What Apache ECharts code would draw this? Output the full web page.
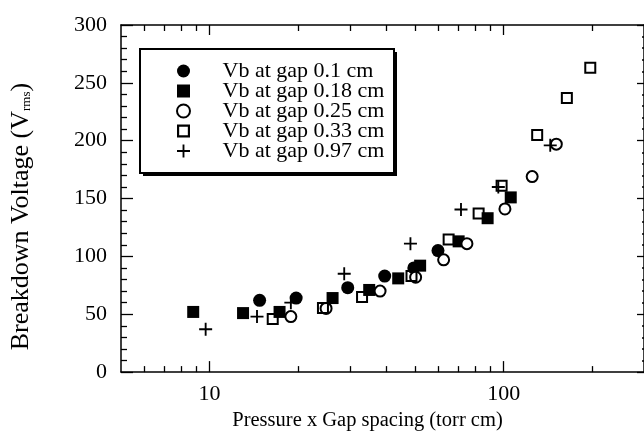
<!DOCTYPE html>
<html>
<head>
<meta charset="utf-8">
<script src="https://cdn.jsdelivr.net/npm/echarts@6/dist/echarts.min.js"></script>
<style>html,body{margin:0;padding:0;background:#fff}#c{width:644px;height:436px}</style>
</head>
<body>
<div id="c"></div>
<script>
// ---- data ----
const seriesNames = ['Vb at gap 0.1 cm','Vb at gap 0.18 cm','Vb at gap 0.25 cm','Vb at gap 0.33 cm','Vb at gap 0.97 cm'];
const gap010 = [[14.8,62],[19.7,64],[29.5,73],[39.4,83],[49.5,90],[59.8,105]];
const gap018 = [[8.8,52],[13,51],[17.3,52],[26.2,64],[34.9,71],[43.8,81],[52,92],[70.3,113],[88.2,133],[105.7,151]];
const gap025 = [[18.9,48],[24.9,55],[38,70],[50.2,82],[62.5,97],[75,111],[101,141],[125,169],[151,197]];
const gap033 = [[16.4,46],[24.3,55.5],[33,65],[48.6,83],[65,114.5],[82.2,137],[98.4,161],[130,205],[164,237],[197,263]];
const gap097 = [[9.7,37],[14.5,48],[18.9,60],[28.7,85],[48.2,111],[71.6,140.5],[95.9,160],[144,196]];
const xMajorTicks = [10,100];
const xMinorTicks = [6,7,8,9,20,30,40,50,60,70,80,90,200];
const xMin = 5, xMax = 300;
const yMin = 0, yMax = 300, yStep = 50;

const FONT = "'Liberation Serif','Times New Roman',serif";
const plusPath = 'path://M6,0H8V6H14V8H8V14H6V8H0V6H6Z';
const squarePath = 'path://M0,0H12V12H0Z';
const openSquarePath = 'path://M0,0H12V12H0Z M2,2V10H10V2Z';

const chart = echarts.init(document.getElementById('c'), null, {renderer:'canvas'});
const lineStyle = {color:'#000', width:1.5};
function xAxisDef(pos, ticks, len, showLine, showLabel, extra){
  return Object.assign({
    type:'log', logBase:10, min:xMin, max:xMax, position:pos, gridIndex:0,
    axisLine:{show:showLine, onZero:false, lineStyle:lineStyle},
    axisTick:{show:true, inside:true, length:len, customValues:ticks, lineStyle:{color:'#000', width:1.3}},
    axisLabel:{show:showLabel, customValues:xMajorTicks, color:'#000', fontFamily:FONT, fontSize:22, margin:11},
    splitLine:{show:false}, minorTick:{show:false}
  }, extra||{});
}
const option = {
  backgroundColor:'#fff',
  animation:false,
  textStyle:{fontFamily:FONT, color:'#000'},
  grid:{left:121, top:25, right:-3, bottom:58, containLabel:false},
  graphic:[
    {type:'rect', left:143, top:52, z:1, shape:{width:254, height:124}, style:{fill:'#000'}},
    {type:'rect', left:139, top:48, z:1, shape:{width:254, height:124}, style:{fill:'#fff', stroke:'#000', lineWidth:2}}
  ],
  xAxis:[
    xAxisDef('bottom', xMajorTicks, 11, true, true, {
      name:'Pressure x Gap spacing (torr cm)', nameLocation:'middle', nameGap:37,
      nameTextStyle:{fontFamily:FONT, fontSize:20.5, color:'#000', padding:[0,30,0,0]}
    }),
    xAxisDef('bottom', xMinorTicks, 6, false, false),
    xAxisDef('top', xMajorTicks, 10, true, false),
    xAxisDef('top', xMinorTicks, 6, false, false)
  ],
  yAxis:[
    {type:'value', min:yMin, max:yMax, interval:yStep, position:'left',
     name:'Breakdown Voltage (V{sub|rms})', nameLocation:'middle', nameGap:87,
     nameTextStyle:{fontFamily:FONT, fontSize:26, color:'#000', padding:[0,36,0,0],
       rich:{sub:{fontFamily:FONT, fontSize:13, color:'#000', padding:[12,0,0,0]}}},
     axisLine:{show:true, lineStyle:lineStyle},
     axisTick:{show:true, inside:true, length:12, lineStyle:{color:'#000', width:1.3}},
     minorTick:{show:true, splitNumber:5, length:6, lineStyle:{color:'#000', width:1.3}},
     axisLabel:{color:'#000', fontFamily:FONT, fontSize:22, margin:14},
     splitLine:{show:false}},
    {type:'value', min:yMin, max:yMax, interval:yStep, position:'right',
     axisLine:{show:true, lineStyle:lineStyle},
     axisTick:{show:true, inside:true, length:7, lineStyle:{color:'#000', width:1.3}},
     minorTick:{show:true, splitNumber:5, length:2, lineStyle:{color:'#000', width:1.5}},
     axisLabel:{show:false}, splitLine:{show:false}}
  ],
  legend:{
    orient:'vertical', left:165, top:48, z:5,
    padding:[12,8,10,11], itemGap:-2, itemWidth:68, itemHeight:13,
    borderWidth:0, backgroundColor:'transparent',
    textStyle:{fontFamily:FONT, fontSize:22, color:'#000', lineHeight:20},
    data:seriesNames
  },
  series:[
    {name:seriesNames[0], type:'scatter', data:gap010, symbol:'circle', symbolSize:13, itemStyle:{color:'#000', opacity:1}},
    {name:seriesNames[1], type:'scatter', data:gap018, symbol:squarePath, symbolSize:12, itemStyle:{color:'#000', opacity:1}},
    {name:seriesNames[2], type:'scatter', data:gap025, symbol:'emptyCircle', symbolSize:11, itemStyle:{color:'#000', borderColor:'#000', borderWidth:2, opacity:1}},
    {name:seriesNames[3], type:'scatter', data:gap033, symbol:openSquarePath, symbolSize:12, itemStyle:{color:'#000', opacity:1}},
    {name:seriesNames[4], type:'scatter', data:gap097, symbol:plusPath, symbolSize:13, itemStyle:{color:'#000', opacity:1}}
  ]
};
chart.setOption(option);
</script>
</body>
</html>
